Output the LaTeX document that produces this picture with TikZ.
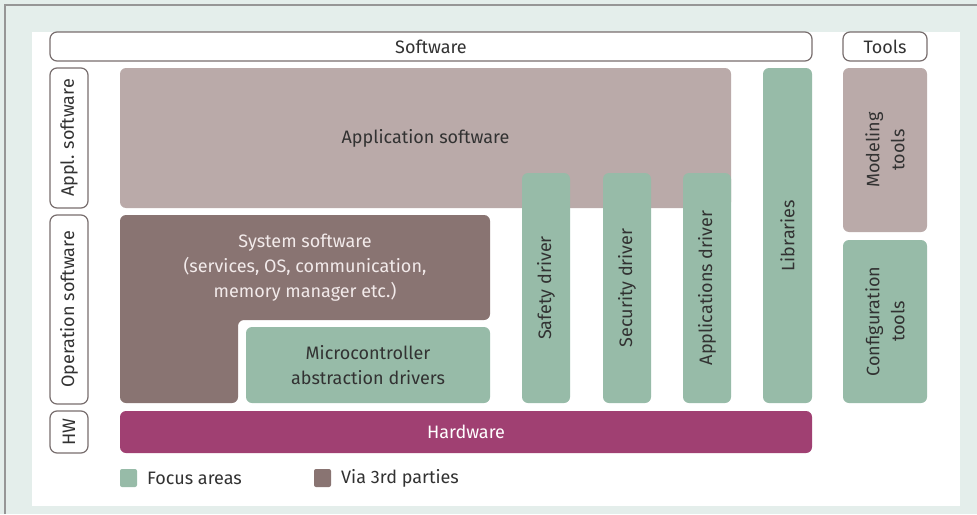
\documentclass[tikz,border=0pt]{standalone}
\usepackage{fontspec}
\setmainfont{Fira Sans}

\definecolor{framebg}{RGB}{228,238,235}
\definecolor{framegray}{RGB}{150,150,150}
\definecolor{edgegray}{RGB}{120,110,110}
\definecolor{focusgreen}{RGB}{151,187,168}
\definecolor{applmauve}{RGB}{186,170,169}
\definecolor{thirdbrown}{RGB}{137,116,114}
\definecolor{hwmagenta}{RGB}{160,64,114}
\definecolor{txtdark}{RGB}{50,50,50}
\definecolor{txtlight}{RGB}{242,234,234}

\begin{document}
\begin{tikzpicture}[x=1pt,y=-1pt,
  every node/.style={font=\fontsize{18}{25}\selectfont, text=txtdark, inner sep=0pt},
  headbox/.style={draw=edgegray, line width=1.2pt, fill=white, rounded corners=7pt},
  sidebox/.style={headbox, rotate=90},
  block/.style={rounded corners=6pt, align=center},
  focus/.style={block, fill=focusgreen},
  tall/.style={focus, rotate=90},
  mark3rd/.style={rounded corners=2pt, minimum width=17pt, minimum height=18pt}]
  \useasboundingbox (0,0) rectangle (977,514);

  % Frame and white sheet
  \fill[framebg] (0,0) rectangle (977,514);
  \draw[framegray, line width=1.5pt] (5,514) -- (5,5) -- (977,5);
  \fill[white] (32,32) rectangle (960,506);

  % Headings
  \node[headbox, minimum width=762pt, minimum height=29pt] (sw) at (431,46.5) {Software};
  \node[headbox, minimum width=84pt, minimum height=29pt] (tools) at (885,46.5) {Tools};
  \node[sidebox, minimum width=140pt, minimum height=38pt] (appllab) at (69,138) {Appl. software};
  \node[sidebox, minimum width=189pt, minimum height=38pt] (oplab) at (69,309.5) {Operation software};
  \node[sidebox, minimum width=42pt, minimum height=38pt] (hwlab) at (69,432) {HW};

  % Application layer
  \node[block, fill=applmauve, minimum width=611pt, minimum height=140pt] (appsw) at (425.5,138) {Application software};

  % System software (L shape)
  \fill[thirdbrown, rounded corners=6pt] (120,215) -- (490,215) -- (490,320) -- (238,320) -- (238,403) -- (120,403) -- cycle;
  \node[align=center, text=txtlight] (systxt) at (305,268) {System software\\(services, OS, communication,\\memory manager etc.)};
  \node[focus, minimum width=244pt, minimum height=76pt] (mcal) at (368,365) {Microcontroller\\abstraction drivers};

  % Drivers and libraries
  \node[tall, minimum width=230pt, minimum height=48pt] (safety) at (546,288) {Safety driver};
  \node[tall, minimum width=230pt, minimum height=48pt] (security) at (627,288) {Security driver};
  \node[tall, minimum width=230pt, minimum height=48pt] (appdrv) at (707,288) {Applications driver};
  \node[tall, minimum width=335pt, minimum height=49pt] (libs) at (787.5,235.5) {Libraries};

  % Tools
  \node[block, fill=applmauve, rotate=90, minimum width=164pt, minimum height=84pt] (modeling) at (885,150) {Modeling\\tools};
  \node[tall, minimum width=163pt, minimum height=84pt] (config) at (885,321.5) {Configuration\\tools};

  % Hardware
  \node[block, fill=hwmagenta, text=white, minimum width=692pt, minimum height=42pt] (hw) at (466,432) {Hardware};

  % Legend
  \node[mark3rd, fill=focusgreen] (keyfocus) at (128.5,478) {};
  \node[anchor=west] (keyfocustxt) at (147,478) {Focus areas};
  \node[mark3rd, fill=thirdbrown] (key3rd) at (322.5,478) {};
  \node[anchor=west] (key3rdtxt) at (341,478) {Via 3rd parties};
\end{tikzpicture}
\end{document}
